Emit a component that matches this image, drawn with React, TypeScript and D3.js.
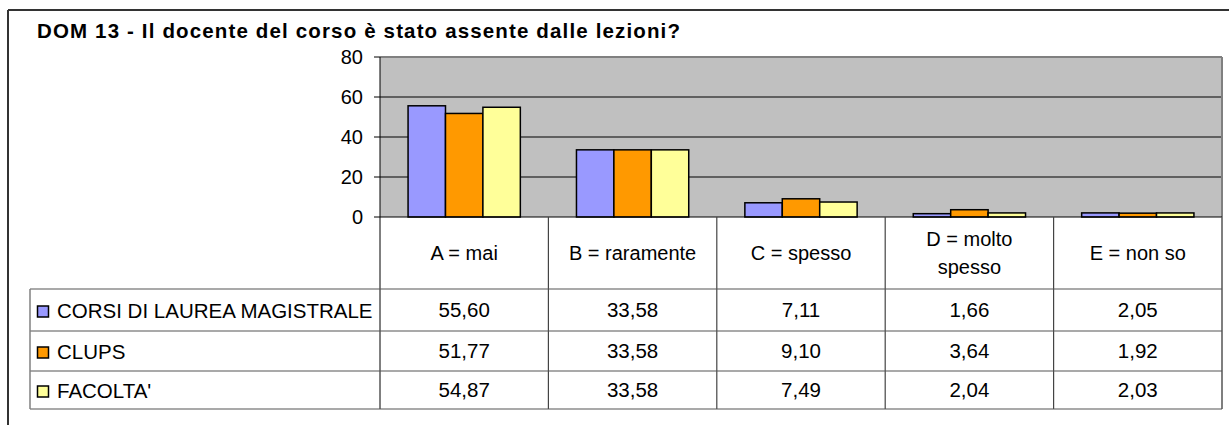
import React from "react";
import * as d3 from "d3";

const title = "DOM 13 - Il docente del corso è stato assente dalle lezioni?";
const categories = ["A = mai", "B = raramente", "C = spesso", "D = molto spesso", "E = non so"];
const categoryLines = [["A = mai"], ["B = raramente"], ["C = spesso"], ["D = molto", "spesso"], ["E = non so"]];
const seriesNames = ["CORSI DI LAUREA MAGISTRALE", "CLUPS", "FACOLTA'"];
const seriesColors = ["#9999FF", "#FF9900", "#FFFF99"];
const corsiValues = [55.6, 33.58, 7.11, 1.66, 2.05];
const clupsValues = [51.77, 33.58, 9.1, 3.64, 1.92];
const facoltaValues = [54.87, 33.58, 7.49, 2.04, 2.03];
const yTicks = [0, 20, 40, 60, 80];

const seriesValues = [corsiValues, clupsValues, facoltaValues];

export default function App() {
  const W = 1229, H = 425;
  const plotL = 380, plotR = 1222, plotT = 57, plotB = 217;
  const headerB = 289;
  const rowBounds = [289, 331, 371, 409];
  const legendL = 30;
  const font = "'Liberation Sans', Arial, sans-serif";

  const x0 = d3.scaleBand<string>().domain(categories).range([plotL, plotR]).padding(0);
  const bw = x0.bandwidth();
  const x1 = d3.scaleBand<string>().domain(seriesNames).range([bw / 6, (bw * 5) / 6]).padding(0);
  const y = d3.scaleLinear().domain([0, 80]).range([plotB, plotT]);
  const fmt = (v: number) => v.toFixed(2).replace(".", ",");

  return (
    <svg width={W} height={H} style={{ position: "absolute", left: 0, top: 0 }} fontFamily={font}>
      <rect x={0} y={0} width={W} height={H} fill="#fff" />
      {/* outer chart border */}
      <line x1={8} y1={10} x2={W} y2={10} stroke="#333" strokeWidth={2} />
      <line x1={8} y1={10} x2={8} y2={H} stroke="#333" strokeWidth={2} />
      <text x={37} y={37.5} fontSize={20.5} fontWeight="bold" fill="#000" textLength={643} lengthAdjust="spacing">{title}</text>

      {/* plot area */}
      <rect x={plotL} y={plotT} width={plotR - plotL} height={plotB - plotT} fill="#C0C0C0" />
      {yTicks.filter((t) => t > 0 && t < 80).map((t) => (
        <line key={t} x1={plotL} x2={plotR} y1={y(t)} y2={y(t)} stroke="#000" strokeWidth={1} />
      ))}
      <line x1={plotL} x2={plotR} y1={plotT} y2={plotT} stroke="#808080" strokeWidth={2} />
      <line x1={plotR} x2={plotR} y1={plotT} y2={plotB} stroke="#808080" strokeWidth={2} />

      {/* bars */}
      {categories.map((c, ci) => (
        <g key={c}>
          {seriesNames.map((s, si) => {
            const v = seriesValues[si][ci];
            return (
              <rect key={s} x={(x0(c) as number) + (x1(s) as number)} y={y(v)} width={x1.bandwidth()}
                height={y(0) - y(v)} fill={seriesColors[si]} stroke="#000" strokeWidth={1.5} />
            );
          })}
        </g>
      ))}

      {/* y axis */}
      <line x1={plotL} x2={plotL} y1={plotT} y2={rowBounds[3]} stroke="#000" strokeWidth={1} />
      {yTicks.map((t) => (
        <g key={t}>
          <line x1={plotL - 6} x2={plotL} y1={y(t)} y2={y(t)} stroke="#000" />
          <text x={363} y={y(t) + 7} fontSize={20} textAnchor="end" fill="#000">{t}</text>
        </g>
      ))}
      <line x1={plotL} x2={plotR} y1={plotB} y2={plotB} stroke="#000" strokeWidth={1} />

      {/* data table */}
      {categories.map((c, ci) => (
        <g key={c}>
          {ci > 0 && (
            <line x1={x0(c) as number} x2={x0(c) as number} y1={plotB} y2={rowBounds[3]} stroke="#444" strokeWidth={1.2} />
          )}
          {categoryLines[ci].map((ln, li) => {
            const n = categoryLines[ci].length;
            const cy = (plotB + headerB) / 2 + 7 + (li - (n - 1) / 2) * 28;
            return (
              <text key={li} x={(x0(c) as number) + bw / 2} y={cy} fontSize={20} textAnchor="middle" fill="#000">{ln}</text>
            );
          })}
          {seriesNames.map((s, si) => (
            <text key={s} x={(x0(c) as number) + bw / 2} y={(rowBounds[si] + rowBounds[si + 1]) / 2 + 7}
              fontSize={20.5} textAnchor="middle" fill="#000">{fmt(seriesValues[si][ci])}</text>
          ))}
        </g>
      ))}
      <line x1={plotR} x2={plotR} y1={plotB} y2={rowBounds[3]} stroke="#555" strokeWidth={1.5} />
      {rowBounds.map((rb) => (
        <line key={rb} x1={legendL} x2={plotR} y1={rb} y2={rb} stroke="#555" strokeWidth={1.2} />
      ))}
      <line x1={legendL} x2={legendL} y1={rowBounds[0]} y2={rowBounds[3]} stroke="#808080" strokeWidth={1.5} />
      {seriesNames.map((s, si) => {
        const cy = (rowBounds[si] + rowBounds[si + 1]) / 2;
        return (
          <g key={s}>
            <rect x={37.5} y={cy - 4} width={11} height={11} fill={seriesColors[si]} stroke="#000" strokeWidth={1.5} />
            <text x={57} y={cy + 8} fontSize={20.5} fill="#000">{s}</text>
          </g>
        );
      })}
    </svg>
  );
}
